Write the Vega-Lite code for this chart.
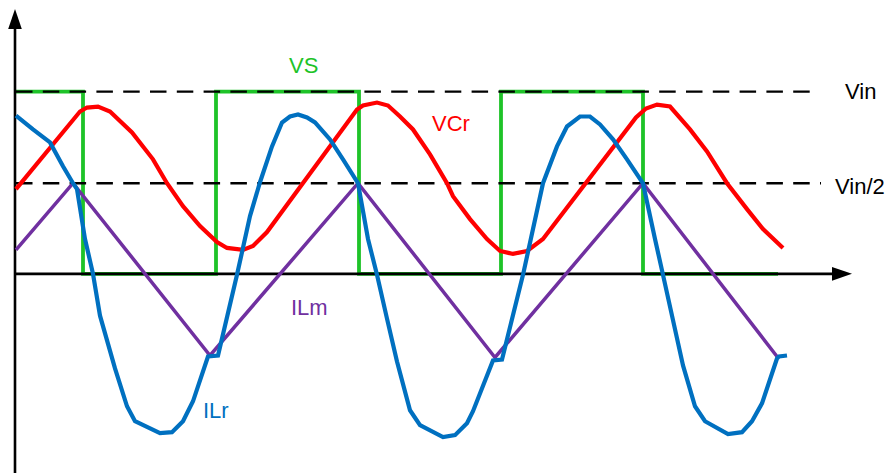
{
  "$schema": "https://vega.github.io/schema/vega-lite/v6.json",
  "width": 888,
  "height": 475,
  "autosize": {"type": "fit", "contains": "padding"},
  "padding": 0,
  "background": "white",
  "config": {"view": {"stroke": null}},
  "datasets": {
    "waves": [
      {"series": "VS", "i": 0, "t": 0, "v": 183},
      {"series": "VS", "i": 1, "t": 67, "v": 183},
      {"series": "VS", "i": 2, "t": 67, "v": 0},
      {"series": "VS", "i": 3, "t": 200, "v": 0},
      {"series": "VS", "i": 4, "t": 200, "v": 183},
      {"series": "VS", "i": 5, "t": 343, "v": 183},
      {"series": "VS", "i": 6, "t": 343, "v": 0},
      {"series": "VS", "i": 7, "t": 485, "v": 0},
      {"series": "VS", "i": 8, "t": 485, "v": 183},
      {"series": "VS", "i": 9, "t": 627, "v": 183},
      {"series": "VS", "i": 10, "t": 627, "v": 0},
      {"series": "VS", "i": 11, "t": 762, "v": 0},

      {"series": "ILm", "i": 0, "t": 0, "v": 24},
      {"series": "ILm", "i": 1, "t": 57, "v": 91},
      {"series": "ILm", "i": 2, "t": 194, "v": -82},
      {"series": "ILm", "i": 3, "t": 342, "v": 91},
      {"series": "ILm", "i": 4, "t": 479, "v": -84},
      {"series": "ILm", "i": 5, "t": 627, "v": 91},
      {"series": "ILm", "i": 6, "t": 761, "v": -83},

      {"series": "VCr", "i": 0, "t": 0, "v": 85},
      {"series": "VCr", "i": 1, "t": 64, "v": 163},
      {"series": "VCr", "i": 2, "t": 71, "v": 167},
      {"series": "VCr", "i": 3, "t": 82, "v": 168},
      {"series": "VCr", "i": 4, "t": 94, "v": 163},
      {"series": "VCr", "i": 5, "t": 116, "v": 142},
      {"series": "VCr", "i": 6, "t": 137, "v": 115},
      {"series": "VCr", "i": 7, "t": 151, "v": 91},
      {"series": "VCr", "i": 8, "t": 167, "v": 68},
      {"series": "VCr", "i": 9, "t": 184, "v": 48},
      {"series": "VCr", "i": 10, "t": 201, "v": 32},
      {"series": "VCr", "i": 11, "t": 211, "v": 26},
      {"series": "VCr", "i": 12, "t": 227, "v": 24},
      {"series": "VCr", "i": 13, "t": 237, "v": 28},
      {"series": "VCr", "i": 14, "t": 251, "v": 42},
      {"series": "VCr", "i": 15, "t": 341, "v": 165},
      {"series": "VCr", "i": 16, "t": 347, "v": 169},
      {"series": "VCr", "i": 17, "t": 361, "v": 172},
      {"series": "VCr", "i": 18, "t": 372, "v": 169},
      {"series": "VCr", "i": 19, "t": 384, "v": 158},
      {"series": "VCr", "i": 20, "t": 397, "v": 145},
      {"series": "VCr", "i": 21, "t": 414, "v": 120},
      {"series": "VCr", "i": 22, "t": 431, "v": 91},
      {"series": "VCr", "i": 23, "t": 437, "v": 78},
      {"series": "VCr", "i": 24, "t": 454, "v": 55},
      {"series": "VCr", "i": 25, "t": 471, "v": 35},
      {"series": "VCr", "i": 26, "t": 484, "v": 23},
      {"series": "VCr", "i": 27, "t": 497, "v": 20},
      {"series": "VCr", "i": 28, "t": 511, "v": 23},
      {"series": "VCr", "i": 29, "t": 527, "v": 35},
      {"series": "VCr", "i": 30, "t": 620, "v": 157},
      {"series": "VCr", "i": 31, "t": 630, "v": 166},
      {"series": "VCr", "i": 32, "t": 641, "v": 170},
      {"series": "VCr", "i": 33, "t": 654, "v": 168},
      {"series": "VCr", "i": 34, "t": 674, "v": 145},
      {"series": "VCr", "i": 35, "t": 691, "v": 123},
      {"series": "VCr", "i": 36, "t": 711, "v": 91},
      {"series": "VCr", "i": 37, "t": 731, "v": 65},
      {"series": "VCr", "i": 38, "t": 747, "v": 45},
      {"series": "VCr", "i": 39, "t": 767, "v": 26},

      {"series": "ILr", "i": 0, "t": 0, "v": 159},
      {"series": "ILr", "i": 1, "t": 17, "v": 145},
      {"series": "ILr", "i": 2, "t": 34, "v": 132},
      {"series": "ILr", "i": 3, "t": 47, "v": 108},
      {"series": "ILr", "i": 4, "t": 57, "v": 91},
      {"series": "ILr", "i": 5, "t": 61, "v": 85},
      {"series": "ILr", "i": 6, "t": 69, "v": 35},
      {"series": "ILr", "i": 7, "t": 77, "v": 0},
      {"series": "ILr", "i": 8, "t": 84, "v": -42},
      {"series": "ILr", "i": 9, "t": 99, "v": -95},
      {"series": "ILr", "i": 10, "t": 111, "v": -133},
      {"series": "ILr", "i": 11, "t": 119, "v": -148},
      {"series": "ILr", "i": 12, "t": 144, "v": -160},
      {"series": "ILr", "i": 13, "t": 156, "v": -159},
      {"series": "ILr", "i": 14, "t": 167, "v": -148},
      {"series": "ILr", "i": 15, "t": 177, "v": -128},
      {"series": "ILr", "i": 16, "t": 192, "v": -83},
      {"series": "ILr", "i": 17, "t": 202, "v": -82},
      {"series": "ILr", "i": 18, "t": 221, "v": -1},
      {"series": "ILr", "i": 19, "t": 234, "v": 58},
      {"series": "ILr", "i": 20, "t": 244, "v": 92},
      {"series": "ILr", "i": 21, "t": 256, "v": 128},
      {"series": "ILr", "i": 22, "t": 266, "v": 152},
      {"series": "ILr", "i": 23, "t": 274, "v": 158},
      {"series": "ILr", "i": 24, "t": 282, "v": 160},
      {"series": "ILr", "i": 25, "t": 291, "v": 157},
      {"series": "ILr", "i": 26, "t": 299, "v": 152},
      {"series": "ILr", "i": 27, "t": 314, "v": 135},
      {"series": "ILr", "i": 28, "t": 327, "v": 115},
      {"series": "ILr", "i": 29, "t": 342, "v": 91},
      {"series": "ILr", "i": 30, "t": 352, "v": 35},
      {"series": "ILr", "i": 31, "t": 361, "v": -1},
      {"series": "ILr", "i": 32, "t": 371, "v": -45},
      {"series": "ILr", "i": 33, "t": 381, "v": -88},
      {"series": "ILr", "i": 34, "t": 394, "v": -137},
      {"series": "ILr", "i": 35, "t": 404, "v": -152},
      {"series": "ILr", "i": 36, "t": 427, "v": -164},
      {"series": "ILr", "i": 37, "t": 439, "v": -162},
      {"series": "ILr", "i": 38, "t": 451, "v": -150},
      {"series": "ILr", "i": 39, "t": 457, "v": -138},
      {"series": "ILr", "i": 40, "t": 477, "v": -87},
      {"series": "ILr", "i": 41, "t": 486, "v": -86},
      {"series": "ILr", "i": 42, "t": 507, "v": -1},
      {"series": "ILr", "i": 43, "t": 517, "v": 45},
      {"series": "ILr", "i": 44, "t": 527, "v": 91},
      {"series": "ILr", "i": 45, "t": 541, "v": 128},
      {"series": "ILr", "i": 46, "t": 551, "v": 148},
      {"series": "ILr", "i": 47, "t": 564, "v": 158},
      {"series": "ILr", "i": 48, "t": 574, "v": 158},
      {"series": "ILr", "i": 49, "t": 584, "v": 150},
      {"series": "ILr", "i": 50, "t": 597, "v": 135},
      {"series": "ILr", "i": 51, "t": 611, "v": 115},
      {"series": "ILr", "i": 52, "t": 627, "v": 91},
      {"series": "ILr", "i": 53, "t": 639, "v": 35},
      {"series": "ILr", "i": 54, "t": 647, "v": -1},
      {"series": "ILr", "i": 55, "t": 667, "v": -92},
      {"series": "ILr", "i": 56, "t": 679, "v": -133},
      {"series": "ILr", "i": 57, "t": 689, "v": -148},
      {"series": "ILr", "i": 58, "t": 712, "v": -161},
      {"series": "ILr", "i": 59, "t": 726, "v": -159},
      {"series": "ILr", "i": 60, "t": 736, "v": -148},
      {"series": "ILr", "i": 61, "t": 746, "v": -130},
      {"series": "ILr", "i": 62, "t": 761, "v": -85},
      {"series": "ILr", "i": 63, "t": 763, "v": -83},
      {"series": "ILr", "i": 64, "t": 771, "v": -82}
    ],
    "refs": [
      {"ref": "Vin", "t0": 0, "t1": 794, "v": 183},
      {"ref": "Vin/2", "t0": 0, "t1": 805, "v": 91}
    ],
    "hAxis": [{"t0": -1, "t1": 818, "v": 0}],
    "vAxis": [{"t": -1, "v0": -200, "v1": 248}],
    "upArrow": [{"t": -1, "v": 256}],
    "rightArrow": [{"t": 826, "v": 0}],
    "labels": [
      {"label": "VS", "series": "VS", "t": 273, "v": 202},
      {"label": "VCr", "series": "VCr", "t": 416, "v": 143},
      {"label": "ILm", "series": "ILm", "t": 275, "v": -41},
      {"label": "ILr", "series": "ILr", "t": 187, "v": -145},
      {"label": "Vin", "series": "ref", "t": 829, "v": 176},
      {"label": "Vin/2", "series": "ref", "t": 819, "v": 80}
    ]
  },
  "encoding": {
    "x": {"field": "t", "type": "quantitative", "scale": {"domain": [-16, 872], "nice": false, "zero": false}, "axis": null},
    "y": {"field": "v", "type": "quantitative", "scale": {"domain": [-200, 275], "nice": false, "zero": false}, "axis": null}
  },
  "layer": [
    {
      "data": {"name": "waves"},
      "transform": [{"filter": "datum.series === 'VS'"}],
      "mark": {"type": "line", "strokeWidth": 3.8, "color": "#1ec328", "strokeJoin": "miter"},
      "encoding": {"order": {"field": "i", "type": "quantitative"}}
    },
    {
      "data": {"name": "refs"},
      "mark": {"type": "rule", "color": "black", "strokeWidth": 2.4, "strokeDash": [16.5, 10.3]},
      "encoding": {
        "x": {"field": "t0", "type": "quantitative"},
        "x2": {"field": "t1"},
        "y": {"field": "v", "type": "quantitative"}
      }
    },
    {
      "data": {"name": "hAxis"},
      "mark": {"type": "rule", "color": "black", "strokeWidth": 2.6},
      "encoding": {
        "x": {"field": "t0", "type": "quantitative"},
        "x2": {"field": "t1"},
        "y": {"field": "v", "type": "quantitative"}
      }
    },
    {
      "data": {"name": "vAxis"},
      "mark": {"type": "rule", "color": "black", "strokeWidth": 2.6},
      "encoding": {
        "x": {"field": "t", "type": "quantitative"},
        "y": {"field": "v0", "type": "quantitative"},
        "y2": {"field": "v1"}
      }
    },
    {
      "data": {"name": "upArrow"},
      "mark": {"type": "point", "shape": "M0,-1L0.68,1L-0.68,1Z", "size": 400, "filled": true, "color": "black", "opacity": 1, "strokeWidth": 0}
    },
    {
      "data": {"name": "rightArrow"},
      "mark": {"type": "point", "shape": "M1,0L-1,-0.68L-1,0.68Z", "size": 400, "filled": true, "color": "black", "opacity": 1, "strokeWidth": 0}
    },
    {
      "data": {"name": "waves"},
      "transform": [{"filter": "datum.series === 'ILm'"}],
      "mark": {"type": "line", "strokeWidth": 3.5, "color": "#7030a0", "strokeJoin": "miter"},
      "encoding": {"order": {"field": "i", "type": "quantitative"}}
    },
    {
      "data": {"name": "waves"},
      "transform": [{"filter": "datum.series === 'VCr'"}],
      "mark": {"type": "line", "strokeWidth": 4.2, "color": "#ff0000"},
      "encoding": {"order": {"field": "i", "type": "quantitative"}}
    },
    {
      "data": {"name": "waves"},
      "transform": [{"filter": "datum.series === 'ILr'"}],
      "mark": {"type": "line", "strokeWidth": 4.2, "color": "#0070c0"},
      "encoding": {"order": {"field": "i", "type": "quantitative"}}
    },
    {
      "data": {"name": "labels"},
      "mark": {"type": "text", "font": "Liberation Sans", "fontSize": 22, "align": "left", "baseline": "alphabetic"},
      "encoding": {
        "text": {"field": "label"},
        "color": {
          "field": "series",
          "type": "nominal",
          "scale": {"domain": ["VS", "VCr", "ILm", "ILr", "ref"], "range": ["#1ec328", "#ff0000", "#7030a0", "#0070c0", "#000000"]},
          "legend": null
        }
      }
    }
  ]
}
